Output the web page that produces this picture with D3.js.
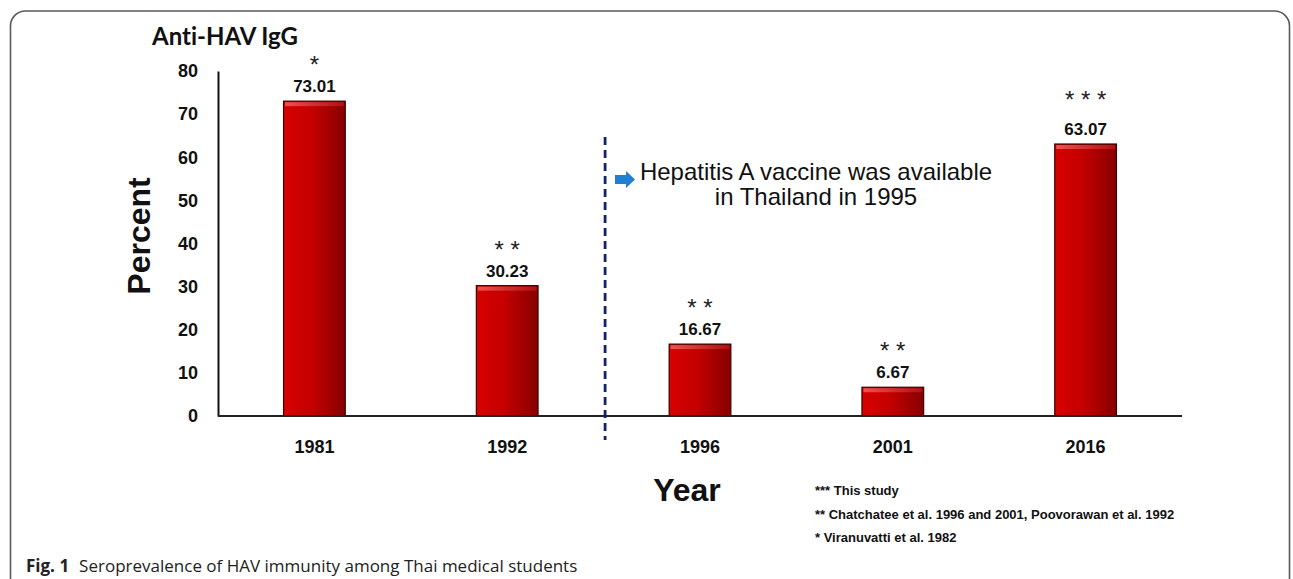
<!DOCTYPE html>
<html>
<head>
<meta charset="utf-8">
<script src="https://cdn.jsdelivr.net/npm/d3@7"></script>
<style>
  html, body { margin: 0; padding: 0; background: #fff; }
  svg { display: block; }
</style>
</head>
<body>
<svg id="chart" width="1293" height="579"></svg>
<script>
// ---- data ----
const years = ["1981", "1992", "1996", "2001", "2016"];
const percent = [73.01, 30.23, 16.67, 6.67, 63.07];
const stars = ["*", "* *", "* *", "* *", "* * *"];
const yTicks = [0, 10, 20, 30, 40, 50, 60, 70, 80];
const footnotes = [
  "*** This study",
  "** Chatchatee et al. 1996 and 2001, Poovorawan et al. 1992",
  "* Viranuvatti et al. 1982"
];
const annotationLines = ["Hepatitis A vaccine was available", "in Thailand in 1995"];

// ---- layout ----
const svg = d3.select("#chart");
const plotLeft = 218, plotRight = 1182, plotTop = 71, plotBottom = 416;

// outer frame
svg.append("rect")
  .attr("x", 10.5).attr("y", 11).attr("width", 1279).attr("height", 620)
  .attr("rx", 15).attr("fill", "none").attr("stroke", "#5a5a5a").attr("stroke-width", 1.6);

const x = d3.scaleBand().domain(years).range([plotLeft, plotRight])
  .paddingInner(0.68).paddingOuter(0.34);
const y = d3.scaleLinear().domain([0, 80]).range([plotBottom, plotTop]);

// gradient
const defs = svg.append("defs");
const grad = defs.append("linearGradient").attr("id", "barGrad")
  .attr("x1", "0%").attr("x2", "100%").attr("y1", "0%").attr("y2", "0%");
grad.append("stop").attr("offset", "0%").attr("stop-color", "#d80000");
grad.append("stop").attr("offset", "45%").attr("stop-color", "#c40000");
grad.append("stop").attr("offset", "100%").attr("stop-color", "#860000");
const hl = defs.append("linearGradient").attr("id", "hlGrad")
  .attr("x1", "0%").attr("x2", "100%").attr("y1", "0%").attr("y2", "0%");
hl.append("stop").attr("offset", "0%").attr("stop-color", "#f05050");
hl.append("stop").attr("offset", "100%").attr("stop-color", "#b01010");

const data = years.map((yr, i) => ({ year: yr, v: percent[i], s: stars[i] }));

// bars
const bars = svg.append("g");
bars.selectAll("rect.bar").data(data).join("rect")
  .attr("class", "bar")
  .attr("x", d => x(d.year)).attr("y", d => y(d.v))
  .attr("width", x.bandwidth()).attr("height", d => y(0) - y(d.v))
  .attr("fill", "url(#barGrad)").attr("stroke", "#3a0000").attr("stroke-width", 1.2);
bars.selectAll("rect.hl").data(data).join("rect")
  .attr("class", "hl")
  .attr("x", d => x(d.year) + 1.5).attr("y", d => y(d.v) + 1)
  .attr("width", x.bandwidth() - 3).attr("height", 4)
  .attr("fill", "url(#hlGrad)");

// axes
const yAxis = d3.axisLeft(y).tickValues(yTicks).tickSize(0).tickPadding(20);
const gy = svg.append("g").attr("transform", `translate(${plotLeft},0)`).call(yAxis);
gy.select(".domain").attr("stroke", "#111").attr("stroke-width", 2);
gy.selectAll("text").attr("font-family", "Liberation Sans, Arial, sans-serif")
  .attr("font-weight", "bold").attr("font-size", 18).attr("fill", "#111");

const xAxis = d3.axisBottom(x).tickSize(0).tickPadding(24);
const gx = svg.append("g").attr("transform", `translate(0,${plotBottom})`).call(xAxis);
gx.select(".domain").attr("stroke", "#222").attr("stroke-width", 2.2)
  .attr("d", `M${plotLeft},0H${plotRight}`);
gx.selectAll("text").attr("font-family", "Liberation Sans, Arial, sans-serif")
  .attr("font-weight", "bold").attr("font-size", 18).attr("fill", "#111");

// value labels
svg.append("g").selectAll("text").data(data).join("text")
  .attr("x", d => x(d.year) + x.bandwidth() / 2)
  .attr("y", d => y(d.v) - 9)
  .attr("text-anchor", "middle")
  .attr("font-family", "Liberation Sans, Arial, sans-serif")
  .attr("font-weight", "bold").attr("font-size", 17).attr("fill", "#111")
  .text(d => d.v.toFixed(2));

// significance stars
svg.append("g").selectAll("text").data(data).join("text")
  .attr("x", d => x(d.year) + x.bandwidth() / 2)
  .attr("y", d => y(d.v) - (d.s.length > 3 ? 36 : 28))
  .attr("text-anchor", "middle")
  .attr("font-family", "Liberation Sans, Arial, sans-serif")
  .attr("font-size", 24).attr("fill", "#222")
  .text(d => d.s);

// dashed divider between 1992 and 1996
const divX = (x("1992") + x.bandwidth() + x("1996")) / 2 + 1.5;
svg.append("line")
  .attr("x1", divX).attr("x2", divX).attr("y1", 137).attr("y2", 440)
  .attr("stroke", "#14246a").attr("stroke-width", 2.8).attr("stroke-dasharray", "8,5");

// arrow
svg.append("path")
  .attr("d", "M615,175 H626 V171 L635,179.5 L626,188 V184 H615 Z")
  .attr("fill", "#1f7fd2");

// annotation text
svg.append("g").selectAll("text").data(annotationLines).join("text")
  .attr("x", 816).attr("y", (d, i) => 180 + i * 25)
  .attr("text-anchor", "middle")
  .attr("font-family", "Liberation Sans, Arial, sans-serif")
  .attr("font-size", 24).attr("fill", "#111")
  .text(d => d);

// axis titles
svg.append("text")
  .attr("transform", `translate(150,236) rotate(-90)`)
  .attr("text-anchor", "middle")
  .attr("font-family", "Liberation Sans, Arial, sans-serif")
  .attr("font-weight", "bold").attr("font-size", 32).attr("fill", "#111")
  .text("Percent");

svg.append("text")
  .attr("x", 687).attr("y", 501)
  .attr("text-anchor", "middle")
  .attr("font-family", "Liberation Sans, Arial, sans-serif")
  .attr("font-weight", "bold").attr("font-size", 32).attr("fill", "#111")
  .text("Year");

svg.append("text")
  .attr("x", 225).attr("y", 45)
  .attr("text-anchor", "middle")
  .attr("font-family", "Lato, 'Open Sans', sans-serif")
  .attr("font-weight", "bold").attr("font-size", 24).attr("fill", "#111")
  .style("font-variant-ligatures", "none")
  .text("Anti-HAV IgG");

// footnotes
svg.append("g").selectAll("text").data(footnotes).join("text")
  .attr("x", 815).attr("y", (d, i) => 495 + i * 23.5)
  .attr("font-family", "Liberation Sans, Arial, sans-serif")
  .attr("font-weight", "bold").attr("font-size", 13).attr("fill", "#111")
  .text(d => d);

// caption
const cap = svg.append("text")
  .attr("x", 26).attr("y", 572)
  .attr("font-family", "'Open Sans', 'Noto Sans', sans-serif")
  .attr("font-size", 17).attr("fill", "#222");
cap.append("tspan").attr("font-weight", "bold").text("Fig. 1");
cap.append("tspan").attr("dx", 10).text("Seroprevalence of HAV immunity among Thai medical students");
</script>
</body>
</html>
